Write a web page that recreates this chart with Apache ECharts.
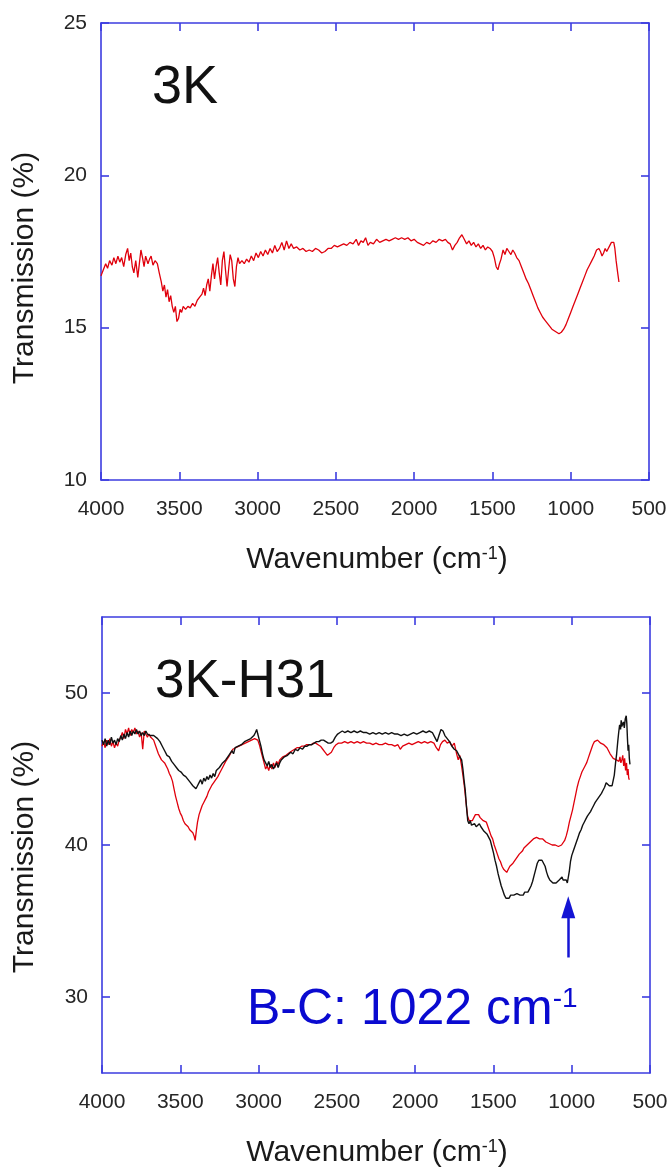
<!DOCTYPE html>
<html>
<head>
<meta charset="utf-8">
<script src="https://cdn.jsdelivr.net/npm/echarts@6/dist/echarts.min.js"></script>
<style>
html,body{margin:0;padding:0;background:#fff;}
#chart{width:669px;height:1169px;}
</style>
</head>
<body>
<div id="chart"></div>
<script>
// ---------- data ----------
var xTicks = [4000, 3500, 3000, 2500, 2000, 1500, 1000, 500];
var yTicksTop = [10, 15, 20, 25];
var yTicksBottom = [30, 40, 50];

// top panel (3K), red
var topWave = [4000,3985,3970,3958,3945,3930,3918,3905,3892,3880,3868,3855,3842,3830,3820,3810,3800,3790,3778,3765,3755,3745,3735,3725,3715,3700,3690,3680,3668,3655,3640,3628,3615,3605,3595,3585,3575,3565,3555,3545,3535,3525,3515,3505,3495,3485,3475,3460,3445,3430,3415,3400,3385,3370,3355,3345,3335,3325,3315,3305,3295,3285,3275,3265,3255,3245,3235,3225,3215,3205,3195,3185,3175,3165,3155,3145,3135,3125,3115,3100,3085,3070,3055,3040,3025,3010,2995,2980,2965,2950,2935,2920,2905,2890,2875,2860,2845,2830,2815,2800,2785,2770,2750,2730,2710,2690,2670,2650,2630,2610,2590,2570,2550,2530,2510,2490,2470,2450,2430,2410,2390,2370,2355,2340,2325,2310,2295,2280,2260,2240,2220,2200,2180,2160,2140,2120,2100,2080,2060,2040,2020,2000,1980,1960,1940,1920,1900,1880,1860,1840,1820,1800,1785,1770,1755,1740,1725,1710,1695,1680,1665,1650,1635,1620,1605,1590,1575,1560,1545,1530,1515,1500,1488,1476,1465,1455,1445,1432,1420,1408,1395,1382,1370,1358,1345,1330,1315,1300,1285,1270,1255,1240,1225,1210,1195,1180,1165,1150,1135,1120,1105,1090,1075,1060,1045,1030,1015,1000,985,970,955,940,925,910,895,880,865,850,835,820,810,800,790,780,770,760,750,740,732,725,718,710,700,692];
var topT = [16.7,16.9,17.1,16.95,17.2,17.05,17.3,17.1,17.35,17.15,17.3,17.0,17.4,17.6,17.2,17.45,17.0,16.8,17.2,16.65,17.1,17.55,17.3,17.0,17.35,17.1,17.25,17.35,17.05,17.2,17.1,16.8,16.5,16.2,16.4,16.0,16.25,15.85,16.05,15.7,15.5,15.7,15.2,15.3,15.6,15.5,15.7,15.6,15.7,15.65,15.8,15.7,15.9,16.0,16.1,16.3,16.05,16.4,16.6,16.2,16.7,17.1,16.6,17.0,17.3,16.8,16.4,17.2,17.5,16.9,16.35,16.9,17.4,17.2,16.6,16.35,17.0,17.3,17.1,17.2,17.1,17.25,17.15,17.35,17.2,17.45,17.3,17.5,17.35,17.55,17.4,17.6,17.45,17.7,17.5,17.6,17.8,17.55,17.85,17.6,17.75,17.6,17.65,17.55,17.6,17.5,17.55,17.5,17.6,17.55,17.45,17.5,17.6,17.6,17.7,17.65,17.7,17.75,17.7,17.8,17.75,17.9,17.7,17.85,17.8,17.95,17.7,17.8,17.75,17.9,17.8,17.85,17.9,17.85,17.9,17.95,17.9,17.95,17.9,17.95,17.85,17.9,17.8,17.75,17.7,17.8,17.75,17.85,17.8,17.9,17.85,17.9,17.8,17.75,17.55,17.7,17.8,17.95,18.05,17.9,17.75,17.85,17.7,17.8,17.65,17.75,17.6,17.7,17.55,17.65,17.6,17.5,17.3,17.0,16.9,17.1,17.25,17.55,17.4,17.6,17.5,17.4,17.55,17.45,17.3,17.2,17.0,16.8,16.6,16.45,16.25,16.05,15.85,15.65,15.5,15.35,15.25,15.15,15.05,14.95,14.9,14.85,14.8,14.85,14.95,15.1,15.3,15.5,15.7,15.9,16.1,16.3,16.5,16.7,16.9,17.05,17.2,17.35,17.55,17.6,17.5,17.35,17.45,17.6,17.5,17.55,17.7,17.8,17.85,17.8,17.6,17.2,16.8,16.5];

// bottom panel (3K-H31), black
var botWaveBlack = [4000,3990,3980,3970,3960,3950,3940,3930,3920,3910,3900,3890,3880,3870,3860,3850,3840,3830,3820,3810,3800,3790,3780,3770,3760,3750,3740,3730,3720,3710,3700,3690,3680,3670,3660,3645,3630,3615,3600,3585,3570,3555,3540,3525,3510,3495,3480,3465,3450,3435,3420,3410,3400,3390,3380,3370,3360,3350,3340,3330,3320,3310,3300,3290,3280,3270,3260,3250,3240,3230,3220,3210,3200,3190,3180,3170,3160,3150,3140,3130,3120,3110,3100,3090,3080,3070,3060,3050,3040,3030,3020,3012,3005,2995,2985,2975,2965,2955,2945,2935,2925,2915,2905,2895,2885,2875,2865,2855,2845,2835,2825,2815,2805,2795,2780,2765,2750,2735,2720,2705,2690,2675,2660,2645,2630,2615,2600,2585,2570,2555,2540,2525,2510,2495,2480,2465,2450,2430,2410,2390,2370,2350,2330,2310,2290,2270,2250,2230,2210,2190,2170,2150,2130,2110,2090,2070,2050,2030,2010,1990,1970,1950,1930,1910,1890,1875,1860,1848,1835,1822,1810,1795,1780,1765,1750,1735,1720,1710,1703,1695,1688,1680,1672,1664,1656,1648,1640,1630,1620,1610,1600,1590,1580,1570,1560,1550,1540,1530,1520,1510,1500,1490,1480,1470,1460,1450,1440,1430,1420,1410,1400,1390,1380,1370,1360,1350,1340,1330,1320,1310,1300,1290,1280,1270,1260,1250,1240,1230,1220,1210,1200,1190,1180,1170,1160,1150,1140,1130,1120,1110,1100,1090,1080,1070,1062,1055,1045,1035,1028,1022,1015,1008,1000,990,980,970,960,950,940,930,920,910,900,890,880,870,860,850,840,830,820,810,800,790,780,770,760,750,742,735,728,720,713,706,700,694,688,684,680,676,670,664,658,652,648,644,640,636,632,628];
var botBlack = [46.9,46.6,47.0,46.5,46.9,46.6,47.1,46.7,46.9,46.6,47.0,46.8,47.2,46.9,47.3,47.0,47.4,47.1,47.5,47.2,47.5,47.3,47.6,47.3,47.5,47.2,47.4,47.2,47.5,47.3,47.4,47.2,47.3,47.2,47.2,47.0,46.8,46.5,46.2,45.9,45.8,45.5,45.3,45.1,44.9,44.8,44.6,44.5,44.3,44.1,43.9,44.0,43.7,43.9,44.1,44.3,44.0,44.4,44.2,44.5,44.3,44.6,44.4,44.7,44.5,44.9,44.8,45.1,45.0,45.4,45.3,45.6,45.7,45.9,46.0,46.2,46.0,46.4,46.3,46.5,46.4,46.6,46.5,46.8,46.7,46.9,46.8,47.0,46.9,47.2,47.4,47.6,47.3,46.9,46.5,46.0,45.6,45.4,45.2,45.5,45.1,45.3,45.0,45.2,45.4,45.1,45.4,45.6,45.5,45.8,45.7,45.9,45.8,46.1,46.0,46.3,46.2,46.4,46.3,46.5,46.5,46.6,46.6,46.7,46.8,46.8,46.9,46.9,46.8,46.7,46.7,46.8,47.1,47.3,47.4,47.5,47.4,47.5,47.4,47.5,47.4,47.5,47.4,47.4,47.3,47.4,47.3,47.4,47.3,47.4,47.3,47.4,47.3,47.3,47.2,47.3,47.2,47.3,47.4,47.3,47.4,47.5,47.4,47.5,47.4,47.1,46.8,47.2,47.6,47.5,47.2,47.0,46.8,46.5,46.3,46.2,45.9,45.8,45.6,45.0,44.3,43.6,42.5,41.6,41.4,41.6,41.3,41.2,41.4,41.2,41.3,41.4,41.2,41.1,40.9,40.9,40.7,40.5,40.3,39.9,39.5,39.0,38.6,38.1,37.7,37.3,37.0,36.7,36.5,36.6,36.5,36.7,36.6,36.7,36.6,36.8,36.7,36.7,36.8,36.7,36.9,36.8,36.9,37.1,37.3,37.6,38.0,38.4,38.8,39.0,39.1,39.0,38.9,38.6,38.2,37.9,37.7,37.6,37.5,37.4,37.5,37.6,37.7,37.8,37.9,37.7,37.6,37.7,37.5,37.6,38.3,38.9,39.3,39.6,39.9,40.2,40.5,40.8,41.0,41.3,41.5,41.7,41.9,42.0,42.2,42.4,42.6,42.8,42.9,43.1,43.2,43.4,43.6,43.8,44.1,44.0,43.9,43.8,43.9,43.8,44.6,45.4,46.0,46.8,47.4,47.9,47.6,48.2,47.8,47.9,48.1,47.7,48.3,48.5,48.0,47.0,46.2,46.6,45.7,45.3];

// bottom panel (3K-H31), red
var botWaveRed = [4000,3990,3980,3970,3960,3950,3940,3930,3920,3910,3900,3890,3880,3870,3860,3850,3840,3830,3820,3810,3800,3790,3780,3770,3760,3750,3740,3730,3720,3710,3700,3690,3680,3670,3660,3650,3640,3630,3620,3610,3600,3590,3580,3570,3560,3550,3540,3530,3520,3510,3500,3490,3480,3470,3460,3450,3440,3430,3420,3412,3405,3398,3390,3380,3370,3360,3350,3340,3330,3320,3310,3300,3290,3280,3270,3260,3250,3240,3230,3220,3210,3200,3185,3175,3165,3155,3145,3135,3125,3115,3105,3095,3085,3075,3065,3055,3045,3035,3025,3015,3005,2995,2985,2975,2965,2955,2945,2935,2925,2915,2905,2895,2885,2875,2865,2855,2845,2835,2825,2815,2800,2785,2770,2755,2740,2725,2710,2695,2680,2665,2650,2635,2620,2605,2590,2575,2560,2548,2535,2520,2505,2490,2470,2450,2430,2410,2390,2370,2350,2330,2310,2290,2270,2250,2230,2210,2190,2170,2150,2130,2110,2095,2080,2060,2040,2020,2000,1980,1960,1940,1920,1900,1880,1865,1850,1838,1825,1810,1795,1780,1765,1750,1735,1725,1715,1705,1695,1685,1675,1665,1655,1645,1635,1625,1615,1605,1595,1585,1575,1565,1555,1545,1535,1525,1515,1505,1495,1485,1475,1465,1455,1445,1435,1425,1415,1405,1395,1385,1375,1365,1355,1345,1335,1325,1315,1305,1295,1285,1275,1265,1255,1245,1235,1225,1215,1205,1195,1185,1175,1165,1155,1145,1135,1125,1115,1105,1095,1085,1075,1065,1055,1045,1035,1025,1015,1005,995,985,975,965,955,945,935,925,915,905,895,885,875,865,855,845,835,825,815,805,795,785,775,765,755,745,735,725,715,705,698,692,686,680,674,668,662,656,650,645,640,636,632];
var botRed = [46.5,46.8,46.4,46.9,46.6,47.0,46.5,46.8,46.4,46.7,46.5,46.9,47.1,47.4,47.0,47.6,47.3,47.7,47.2,47.6,47.4,47.7,47.3,47.5,47.1,47.4,46.3,47.5,47.3,47.1,47.3,47.1,47.2,46.9,46.6,46.3,46.0,45.8,45.6,45.5,45.4,45.3,45.0,44.7,44.5,44.2,43.7,43.2,42.8,42.4,42.1,41.9,41.6,41.4,41.3,41.2,41.0,40.9,40.8,40.6,40.3,40.9,41.5,42.0,42.3,42.6,42.8,43.0,43.2,43.5,43.7,43.9,44.0,44.2,44.3,44.5,44.7,44.8,45.1,45.2,45.5,45.5,45.9,46.0,46.3,46.2,46.4,46.3,46.5,46.4,46.6,46.5,46.7,46.6,46.8,46.7,46.9,46.8,47.0,47.1,46.9,46.6,46.2,45.8,45.4,45.0,45.2,44.9,45.3,45.0,45.4,45.1,45.5,45.3,45.6,45.5,45.8,45.7,45.9,46.0,46.1,46.2,46.3,46.4,46.4,46.5,46.5,46.6,46.6,46.6,46.7,46.7,46.6,46.5,46.3,46.1,45.9,45.8,46.1,46.4,46.6,46.7,46.7,46.8,46.7,46.8,46.7,46.8,46.7,46.8,46.7,46.7,46.6,46.7,46.6,46.6,46.7,46.6,46.6,46.5,46.6,46.3,46.5,46.6,46.7,46.6,46.7,46.8,46.7,46.8,46.7,46.8,46.7,46.4,46.2,46.6,46.8,46.9,46.7,46.8,46.5,46.7,46.0,45.6,45.9,45.3,44.6,43.8,42.8,41.9,41.6,41.7,41.6,41.8,42.0,42.1,42.0,41.8,41.7,41.6,41.5,41.5,41.2,40.9,40.6,40.4,40.0,39.7,39.4,39.1,38.9,38.6,38.4,38.3,38.2,38.4,38.6,38.7,38.8,38.9,39.1,39.2,39.4,39.5,39.6,39.8,39.8,40.0,40.1,40.2,40.3,40.4,40.5,40.5,40.4,40.4,40.3,40.4,40.3,40.2,40.2,40.1,40.1,40.0,40.1,40.0,40.0,39.9,40.0,40.0,40.1,40.3,40.6,41.0,41.5,41.9,42.3,42.8,43.3,43.8,44.2,44.5,44.8,45.0,45.2,45.4,45.7,46.0,46.3,46.6,46.8,46.9,46.9,46.8,46.7,46.6,46.6,46.5,46.4,46.2,46.0,45.9,45.7,45.6,45.6,45.7,45.5,45.8,45.4,45.6,45.9,45.2,45.7,44.9,45.4,44.6,45.0,44.4,44.3];

// annotation arrow (B-C band)
var arrowWave = 1022;
var arrowFrom = 32.6;
var arrowTo = 35.9;

// ---------- helpers ----------
function pairs(xs, ys) { var out = []; for (var i = 0; i < xs.length; i++) out.push([xs[i], ys[i]]); return out; }

var AX = '#3c3ce0';
var FONT = "'Liberation Sans', Arial, Helvetica, sans-serif";
function plain(v) { return String(v); }

function xAx(grid, pos, showLabel) {
  return {
    type: 'value', gridIndex: grid, position: pos, inverse: true,
    min: 500, max: 4000, interval: 500,
    axisLine: { show: true, onZero: false, lineStyle: { color: AX, width: 1.6 } },
    axisTick: { show: true, inside: true, length: 8, lineStyle: { color: AX, width: 1.6 }, customValues: xTicks },
    axisLabel: { show: showLabel, margin: 19, fontSize: 21, color: '#262626', fontFamily: FONT, customValues: xTicks, formatter: plain },
    splitLine: { show: false }
  };
}
function yAx(grid, pos, showLabel, mn, mx, iv, ticks) {
  return {
    type: 'value', gridIndex: grid, position: pos,
    min: mn, max: mx, interval: iv,
    axisLine: { show: true, onZero: false, lineStyle: { color: AX, width: 1.6 } },
    axisTick: { show: true, inside: true, length: 8, lineStyle: { color: AX, width: 1.6 }, customValues: ticks },
    axisLabel: { show: showLabel, margin: 14, fontSize: 21, color: '#262626', fontFamily: FONT, customValues: ticks, formatter: plain },
    splitLine: { show: false }
  };
}

var titleRich = { sup: { fontSize: 18, lineHeight: 12, verticalAlign: 'top', fontFamily: FONT, fill: '#1a1a1a' } };

var chart = echarts.init(document.getElementById('chart'), null, { renderer: 'canvas' });
chart.setOption({
  animation: false,
  backgroundColor: '#fff',
  grid: [
    { left: 101, top: 23, width: 548, height: 457, outerBoundsMode: 'none', containLabel: false },
    { left: 102, top: 617, width: 548, height: 456, outerBoundsMode: 'none', containLabel: false }
  ],
  xAxis: [ xAx(0, 'bottom', true), xAx(0, 'top', false), xAx(1, 'bottom', true), xAx(1, 'top', false) ],
  yAxis: [
    yAx(0, 'left', true, 10, 25, 5, yTicksTop), yAx(0, 'right', false, 10, 25, 5, yTicksTop),
    yAx(1, 'left', true, 25, 55, 5, yTicksBottom), yAx(1, 'right', false, 25, 55, 5, yTicksBottom)
  ],
  series: [
    { name: '3K', type: 'line', xAxisIndex: 0, yAxisIndex: 0, data: pairs(topWave, topT), showSymbol: false, lineStyle: { color: '#e0000c', width: 1.3 }, silent: true },
    { name: '3K-H31 red', type: 'line', xAxisIndex: 2, yAxisIndex: 2, data: pairs(botWaveRed, botRed), showSymbol: false, lineStyle: { color: '#e0000c', width: 1.3 }, silent: true },
    { name: '3K-H31 black', type: 'line', xAxisIndex: 2, yAxisIndex: 2, data: pairs(botWaveBlack, botBlack), showSymbol: false, lineStyle: { color: '#111', width: 1.4 }, silent: true,
      markLine: { silent: true, symbol: ['none', 'triangle'], symbolSize: [14, 22], label: { show: false },
        lineStyle: { color: '#1414d4', width: 2.5, type: 'solid' },
        data: [[ { coord: [arrowWave, arrowFrom] }, { coord: [arrowWave, arrowTo] } ]] } }
  ],
  graphic: [
    { type: 'text', x: 152, y: 88, style: { text: '3K', fontSize: 54, fontFamily: FONT, fill: '#111', textAlign: 'left', textVerticalAlign: 'middle' } },
    { type: 'text', x: 155, y: 682, style: { text: '3K-H31', fontSize: 53, fontFamily: FONT, fill: '#111', textAlign: 'left', textVerticalAlign: 'middle' } },
    { type: 'text', x: 247, y: 1010, style: { text: 'B-C: 1022 cm{sup|-1}', fontSize: 50, lineHeight: 50, fontFamily: FONT, fill: '#0a0ad0', textAlign: 'left', textVerticalAlign: 'middle',
        rich: { sup: { fontSize: 28, lineHeight: 16, verticalAlign: 'top', fontFamily: FONT, fill: '#0a0ad0' } } } },
    { type: 'text', x: 377, y: 560, style: { text: 'Wavenumber (cm{sup|-1})', fontSize: 30, lineHeight: 30, fontFamily: FONT, fill: '#1a1a1a', textAlign: 'center', textVerticalAlign: 'middle', rich: titleRich } },
    { type: 'text', x: 377, y: 1153, style: { text: 'Wavenumber (cm{sup|-1})', fontSize: 30, lineHeight: 30, fontFamily: FONT, fill: '#1a1a1a', textAlign: 'center', textVerticalAlign: 'middle', rich: titleRich } },
    { type: 'text', x: 25, y: 268, rotation: Math.PI / 2, style: { text: 'Transmission (%)', fontSize: 30, fontFamily: FONT, fill: '#1a1a1a', textAlign: 'center', textVerticalAlign: 'middle' } },
    { type: 'text', x: 25, y: 857, rotation: Math.PI / 2, style: { text: 'Transmission (%)', fontSize: 30, fontFamily: FONT, fill: '#1a1a1a', textAlign: 'center', textVerticalAlign: 'middle' } }
  ]
});
</script>
</body>
</html>
